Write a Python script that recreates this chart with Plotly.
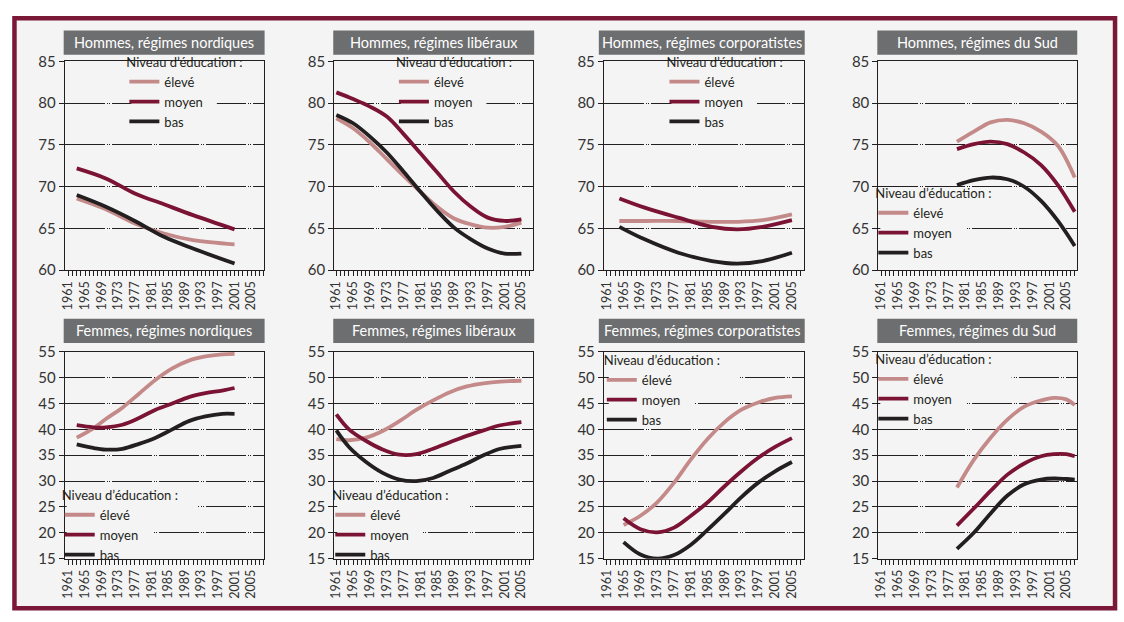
import plotly.graph_objects as go

W, H = 1124, 622

# ---------------- data ----------------
levels = ["élevé", "moyen", "bas"]
legend_title = "Niveau d’éducation :"

panel_titles = [
    "Hommes, régimes nordiques", "Hommes, régimes libéraux",
    "Hommes, régimes corporatistes", "Hommes, régimes du Sud",
    "Femmes, régimes nordiques", "Femmes, régimes libéraux",
    "Femmes, régimes corporatistes", "Femmes, régimes du Sud",
]

x_tick_labels = [1961, 1965, 1969, 1973, 1977, 1981, 1985, 1989, 1993, 1997, 2001, 2005]

# Hommes, nordiques
hn_years = [1963, 1970, 1977, 1984, 1991, 2001]
hn_eleve = [68.6, 67.3, 65.6, 64.4, 63.6, 63.1]
hn_moyen = [72.2, 71.0, 69.2, 67.9, 66.6, 64.9]
hn_bas = [69.0, 67.6, 65.9, 64.0, 62.6, 60.8]

# Hommes, libéraux
hl_years = [1961, 1965, 1969, 1973, 1977, 1981, 1985, 1989, 1993, 1997, 2001, 2005]
hl_eleve = [78.2, 77.0, 75.3, 73.3, 71.3, 69.4, 67.6, 66.2, 65.5, 65.1, 65.2, 65.7]
hl_moyen = [81.3, 80.5, 79.6, 78.4, 76.3, 74.0, 71.7, 69.4, 67.6, 66.3, 65.9, 66.1]
hl_bas = [78.6, 77.6, 76.0, 74.1, 71.8, 69.4, 67.1, 65.1, 63.7, 62.6, 62.0, 62.0]

# Hommes, corporatistes
hc_years = [1964, 1970, 1978, 1986, 1992, 1998, 2005]
hc_eleve = [65.9, 65.9, 65.9, 65.8, 65.8, 66.0, 66.7]
hc_moyen = [68.6, 67.5, 66.3, 65.2, 64.9, 65.2, 66.0]
hc_bas = [65.2, 63.7, 62.1, 61.1, 60.8, 61.1, 62.1]

# Hommes, Sud
hs_years = [1979, 1983, 1987, 1991, 1995, 1999, 2003, 2007]
hs_eleve = [75.4, 76.6, 77.7, 78.0, 77.6, 76.6, 74.9, 71.1]
hs_moyen = [74.5, 75.1, 75.4, 75.1, 74.1, 72.6, 70.2, 67.0]
hs_bas = [70.2, 70.8, 71.1, 70.9, 70.0, 68.3, 65.9, 62.9]

# Femmes, nordiques
fn_years = [1963, 1967, 1970, 1974, 1978, 1982, 1986, 1990, 1994, 1998, 2001]
fn_eleve = [38.4, 40.2, 42.0, 44.2, 46.9, 49.6, 51.8, 53.3, 54.1, 54.5, 54.6]
fn_moyen = [40.8, 40.4, 40.4, 40.9, 42.2, 43.8, 45.0, 46.25, 47.0, 47.5, 48.0]
fn_bas = [37.1, 36.4, 36.1, 36.25, 37.2, 38.4, 40.0, 41.6, 42.5, 43.0, 43.0]

# Femmes, libéraux
fl_years = [1961, 1964, 1968, 1972, 1976, 1980, 1984, 1988, 1992, 1996, 2000, 2005]
fl_eleve = [38.1, 37.9, 38.4, 39.7, 41.6, 43.75, 45.6, 47.2, 48.3, 48.9, 49.25, 49.4]
fl_moyen = [42.9, 40.0, 37.8, 36.1, 35.1, 35.2, 36.25, 37.5, 38.75, 39.8, 40.8, 41.4]
fl_bas = [39.8, 36.6, 33.75, 31.6, 30.3, 30.0, 30.6, 32.0, 33.4, 35.0, 36.25, 36.8]

# Femmes, corporatistes
fc_years = [1965, 1969, 1973, 1977, 1981, 1985, 1989, 1993, 1997, 2001, 2005]
fc_eleve = [21.5, 23.3, 25.9, 29.7, 34.2, 38.2, 41.4, 43.8, 45.2, 46.1, 46.4]
fc_moyen = [22.8, 20.7, 20.1, 21.0, 23.3, 25.9, 29.0, 31.9, 34.5, 36.6, 38.3]
fc_bas = [18.2, 15.8, 15.0, 15.7, 17.7, 20.6, 23.7, 26.9, 29.7, 31.9, 33.7]

# Femmes, Sud
fs_years = [1979, 1983, 1987, 1991, 1995, 1999, 2002, 2005, 2007]
fs_eleve = [28.75, 34.1, 38.4, 41.9, 44.4, 45.6, 46.1, 45.8, 44.7]
fs_moyen = [21.4, 24.7, 28.1, 31.25, 33.4, 34.8, 35.2, 35.2, 34.8]
fs_bas = [16.9, 20.0, 23.75, 27.2, 29.4, 30.3, 30.5, 30.4, 30.3]

# ---------------- styling / layout ----------------
line_colors = {"élevé": "#c48a89", "moyen": "#7b1434", "bas": "#231f20"}
frame_color = "#7b1838"
title_bg = "#6d6e70"
bg = "#f4f4f4"
ink = "#231f20"
FONT = "Lato, 'Open Sans', sans-serif"

panel_data = [
    (hn_years, [hn_eleve, hn_moyen, hn_bas]),
    (hl_years, [hl_eleve, hl_moyen, hl_bas]),
    (hc_years, [hc_eleve, hc_moyen, hc_bas]),
    (hs_years, [hs_eleve, hs_moyen, hs_bas]),
    (fn_years, [fn_eleve, fn_moyen, fn_bas]),
    (fl_years, [fl_eleve, fl_moyen, fl_bas]),
    (fc_years, [fc_eleve, fc_moyen, fc_bas]),
    (fs_years, [fs_eleve, fs_moyen, fs_bas]),
]

# pixel geometry
col_px = [(59, 259), (330, 530), (601, 802), (877, 1077)]
col_xrange = [(1960.1, 2008.0), (1960.5, 2007.8), (1960.3, 2007.8), (1960.3, 2007.6)]
title_px = [(58, 260), (329, 531), (596, 803), (876, 1077)]
row_px = [(53, 268), (352, 565)]
row_title_px = [(21, 46), (318, 343)]
row_yrange = [(60, 85), (15, 55)]
# legend anchor per panel: (symbol left px, middle item centre px, vertical tweak px)
legend_anchor = [(130, 101, -6), (401, 101, -6), (673, 101, -6), (883, 233, -3),
                 (65, 535, 6), (337, 535, 6), (610, 400, 2), (883, 399, 2)]


def px_x(v):
    return v / W


def px_y(v):
    return 1 - v / H


fig = go.Figure()
layout = dict(
    width=W, height=H,
    margin=dict(l=0, r=0, t=0, b=0),
    paper_bgcolor="white",
    plot_bgcolor="rgba(0,0,0,0)",
    font=dict(family=FONT, color=ink),
    shapes=[], annotations=[],
)

layout["shapes"].append(dict(
    type="rect", xref="paper", yref="paper", layer="below",
    x0=px_x(8.5), x1=px_x(1115), y0=px_y(616), y1=px_y(8.5),
    fillcolor=bg, line=dict(color=frame_color, width=4.5),
))

for i in range(8):
    r, c = divmod(i, 4)
    n = i + 1
    xa = "xaxis" if n == 1 else f"xaxis{n}"
    ya = "yaxis" if n == 1 else f"yaxis{n}"
    xr = "x" if n == 1 else f"x{n}"
    yr = "y" if n == 1 else f"y{n}"
    lg = "legend" if n == 1 else f"legend{n}"

    years, series = panel_data[i]
    for name, vals in zip(levels, series):
        fig.add_trace(go.Scatter(
            x=years, y=vals, name=name, mode="lines",
            line=dict(color=line_colors[name], width=3.8, shape="spline", smoothing=1.0),
            xaxis=xr, yaxis=yr, legend=lg, hoverinfo="skip",
        ))

    x0p, x1p = col_px[c]
    y0p, y1p = row_px[r]
    xlo, xhi = col_xrange[c]
    ylo, yhi = row_yrange[r]
    layout[xa] = dict(
        domain=[px_x(x0p), px_x(x1p)], anchor=yr, range=[xlo, xhi],
        tickmode="array", tickvals=x_tick_labels, ticktext=[str(v) for v in x_tick_labels],
        tickangle=-90, ticks="outside", ticklen=5, tickcolor=ink, tickwidth=1,
        minor=dict(dtick=1, tick0=1961, ticks="outside", ticklen=5, tickcolor=ink, tickwidth=1),
        showgrid=False, zeroline=False,
        showline=True, linecolor=ink, linewidth=1, mirror=True,
        tickfont=dict(family=FONT, size=12.5, color="#333333"),
        fixedrange=True,
    )
    layout[ya] = dict(
        domain=[px_y(y1p), px_y(y0p)], anchor=xr, range=[ylo, yhi],
        dtick=5, ticks="outside", ticklen=5, tickcolor=ink, tickwidth=1,
        showgrid=True, gridcolor=ink, gridwidth=1, griddash="40px,2px,1px,1px,1px,2px",
        zeroline=False,
        showline=True, linecolor=ink, linewidth=1, mirror=True,
        tickfont=dict(family=FONT, size=15, color="#333333"),
        fixedrange=True,
    )

    # title box
    tx0, tx1 = title_px[c]
    ty0, ty1 = row_title_px[r]
    layout["shapes"].append(dict(
        type="rect", xref="paper", yref="paper", layer="above",
        x0=px_x(tx0), x1=px_x(tx1), y0=px_y(ty1), y1=px_y(ty0),
        fillcolor=title_bg, line=dict(width=0),
    ))
    layout["annotations"].append(dict(
        xref="paper", yref="paper", x=px_x((tx0 + tx1) / 2), y=px_y((ty0 + ty1) / 2),
        xanchor="center", yanchor="middle", showarrow=False,
        text=panel_titles[i], font=dict(family=FONT, size=14.5, color="white"),
    ))

    # legend
    sx, my, tweak = legend_anchor[i]
    layout[lg] = dict(
        x=px_x(sx - 11), y=px_y(my - 54 + tweak), xanchor="left", yanchor="top",
        bgcolor="rgba(0,0,0,0)", borderwidth=0,
        title=dict(text=legend_title, font=dict(family=FONT, size=13, color=ink)),
        font=dict(family=FONT, size=13, color=ink),
        itemwidth=30, tracegroupgap=0, traceorder="normal",
    )

    # background patches behind the legend text (hide grid lines, stay under curves)
    def dx(p):
        v = xlo + (p - x0p) / (x1p - x0p) * (xhi - xlo)
        return max(xlo, min(xhi, v))

    def dy(p):
        v = ylo + (y1p - p) / (y1p - y0p) * (yhi - ylo)
        return max(ylo, min(yhi, v))

    for (ax0, ax1, ay0, ay1) in [(sx - 4, sx + 128, my - 46, my - 20),
                                 (sx - 4, sx + 82, my - 20, my + 28)]:
        layout["shapes"].append(dict(
            type="rect", xref=xr, yref=yr, layer="between",
            x0=dx(ax0), x1=dx(ax1), y0=dy(ay1), y1=dy(ay0),
            fillcolor=bg, line=dict(width=0),
        ))

fig.update_layout(**layout)
fig.write_html("out.html")
